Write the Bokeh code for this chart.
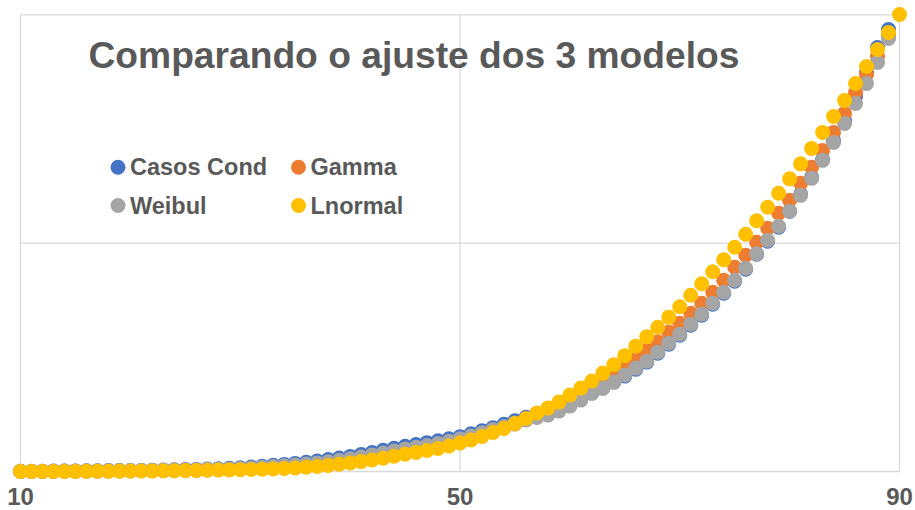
from bokeh.plotting import figure
from bokeh.models import Range1d, Label
from bokeh.core.properties import value
from bokeh.embed import file_html
from bokeh.resources import INLINE

# ---------------- data ----------------
dias = [10, 11, 12, 13, 14, 15, 16, 17, 18, 19,
        20, 21, 22, 23, 24, 25, 26, 27, 28, 29,
        30, 31, 32, 33, 34, 35, 36, 37, 38, 39,
        40, 41, 42, 43, 44, 45, 46, 47, 48, 49,
        50, 51, 52, 53, 54, 55, 56, 57, 58, 59,
        60, 61, 62, 63, 64, 65, 66, 67, 68, 69,
        70, 71, 72, 73, 74, 75, 76, 77, 78, 79,
        80, 81, 82, 83, 84, 85, 86, 87, 88, 89,
        90]

casos_cond = [0.9, 0.9, 1.3, 1.7, 2.2, 2.6, 3.1, 3.5, 3.9, 4.1,
              4.4, 4.8, 5.7, 6.6, 7.4, 8.3, 9.2, 10.5, 12.2, 14.0,
              16.2, 19.7, 23.2, 27.1, 31.1, 35.4, 40.2, 45.9, 52.1, 58.6,
              65.6, 73.9, 83.1, 92.7, 101.9, 110.7, 118.5, 126.4, 134.3, 143.0,
              152.7, 164.9, 178.0, 192.0, 206.5, 221.8, 237.5, 253.7, 269.9, 286.5,
              304.0, 322.0, 343.4, 365.2, 391.5, 417.7, 448.3, 479.0, 518.3, 557.7,
              597.1, 640.8, 684.5, 732.6, 780.8, 833.2, 885.7, 951.3, 1008.2, 1069.4,
              1139.4, 1213.8, 1288.1, 1366.9, 1450.0, 1537.5, 1642.4, 1747.4, 1856.8, 1935.5]

gamma = [0.2, 0.2, 0.4, 0.4, 0.9, 1.1, 1.3, 1.5, 1.7, 2.2,
         2.6, 3.1, 3.5, 3.9, 4.8, 5.2, 5.7, 7.0, 7.9, 9.2,
         10.1, 11.8, 13.6, 15.7, 18.4, 21.4, 24.9, 28.9, 33.7, 39.4,
         45.5, 52.1, 59.9, 68.2, 77.0, 86.2, 93.6, 101.9, 110.7, 120.7,
         132.5, 145.2, 159.7, 175.0, 190.3, 207.8, 227.4, 247.1, 264.6, 288.7,
         312.7, 339.0, 369.6, 400.2, 435.2, 465.8, 496.4, 531.4, 567.0, 610.2,
         649.5, 693.3, 737.0, 785.1, 837.6, 894.5, 947.0, 1003.8, 1065.1, 1130.7,
         1187.5, 1261.9, 1331.9, 1406.2, 1485.0, 1568.1, 1659.9, 1738.7, 1817.4, 1909.2]

weibul = [0.4, 0.4, 0.9, 1.3, 1.7, 1.7, 2.2, 2.6, 3.1, 3.5,
          3.6, 3.9, 4.4, 5.2, 6.1, 6.6, 7.4, 8.7, 10.1, 11.4,
          13.1, 15.7, 18.4, 21.4, 24.9, 28.4, 32.8, 37.6, 42.9, 49.0,
          55.5, 63.4, 71.7, 80.5, 89.7, 98.4, 106.3, 114.2, 122.5, 132.1,
          143.0, 155.3, 169.3, 183.7, 196.8, 212.1, 225.3, 236.2, 247.1, 264.6,
          286.5, 312.7, 343.4, 365.2, 391.5, 422.1, 452.7, 483.3, 522.7, 562.1,
          601.4, 645.2, 688.9, 737.0, 785.1, 837.6, 890.1, 953.5, 1012.6, 1073.8,
          1139.4, 1209.4, 1283.8, 1362.5, 1441.2, 1524.3, 1611.8, 1699.3, 1791.2, 1896.1]

lnormal = [0.1, 0.1, 0.2, 0.2, 0.4, 0.4, 0.9, 0.9, 1.3, 1.7,
           2.2, 2.2, 2.6, 3.1, 3.5, 3.9, 4.4, 5.2, 6.1, 7.0,
           7.9, 8.7, 10.1, 11.4, 13.1, 15.3, 18.4, 21.9, 26.2, 31.5,
           37.2, 43.3, 50.3, 58.2, 66.5, 75.7, 83.1, 91.9, 100.6, 111.5,
           124.7, 137.8, 153.1, 170.6, 188.1, 210.0, 231.8, 255.9, 277.7, 304.0,
           334.6, 365.2, 395.8, 430.8, 468.0, 507.4, 549.0, 590.5, 632.0, 675.8,
           721.7, 772.0, 822.3, 874.8, 927.3, 982.0, 1038.8, 1097.9, 1156.9, 1218.2,
           1281.6, 1347.2, 1415.0, 1485.0, 1554.9, 1624.9, 1699.3, 1773.7, 1848.1, 1922.4,
           2001.1]

x_ticks = [10, 50, 90]
x_tick_labels = ["10", "50", "90"]
y_grid = [0, 1000, 2000]

titulo = "Comparando o ajuste dos 3 modelos"
nomes = ["Casos Cond", "Gamma", "Weibul", "Lnormal"]
cores = ["#4472C4", "#ED7D31", "#A5A5A5", "#FFC000"]

FONT = "Liberation Sans"
TXT = "#595959"
GRID = "#D9D9D9"

W, H = 915, 510
X0, X1 = 8.18, 91.456
Y0, Y1 = -170.8, 2062.6

# ---------------- figure ----------------
p = figure(width=W, height=H, output_backend="svg", toolbar_location=None,
           x_axis_location=None, y_axis_location=None,
           x_range=Range1d(X0, X1), y_range=Range1d(Y0, Y1),
           min_border=0, outline_line_color=None,
           background_fill_color="white", border_fill_color="white")
p.xgrid.visible = False
p.ygrid.visible = False

# gridlines (from tick arrays)
n = len(x_ticks)
p.segment(x0=x_ticks, y0=[y_grid[0]] * n, x1=x_ticks, y1=[y_grid[-1]] * n,
          line_color=GRID, line_width=1.3)
m = len(y_grid)
p.segment(x0=[x_ticks[0]] * m, y0=y_grid, x1=[x_ticks[-1]] * m, y1=y_grid,
          line_color=GRID, line_width=1.3)

series = [casos_cond, gamma, weibul, lnormal]
for vals, cor in zip(series, cores):
    p.scatter(dias[:len(vals)], vals, size=15, fill_color=cor, line_color=None)

# x tick labels
p.text(x=x_ticks, y=[y_grid[0]] * n, text=x_tick_labels, y_offset=25.5,
       text_align="center", text_baseline="middle",
       text_font=value(FONT), text_font_style=value("bold"),
       text_font_size=value("24px"), text_color=TXT)

# title
p.add_layout(Label(x=88, y=H - 54.5, x_units="screen", y_units="screen", text=titulo,
                   text_font=FONT, text_font_style="bold", text_font_size="37.2px",
                   text_color=TXT, text_align="left", text_baseline="middle"))

# legend (two columns, Excel style) -- key markers placed in screen pixels
def sx(px):
    return X0 + px / W * (X1 - X0)

def sy(py):
    return Y1 - py / H * (Y1 - Y0)

leg_cols = [117.5, 298.0]     # marker centres, screen px
leg_rows = [166.7, 205.0]
leg_pos = [(0, 0), (1, 0), (0, 1), (1, 1)]   # (col, row) for each series
for (c, r), nome, cor in zip(leg_pos, nomes, cores):
    p.scatter([sx(leg_cols[c])], [sy(leg_rows[r])], size=15, fill_color=cor, line_color=None)
    p.add_layout(Label(x=leg_cols[c] + 12, y=H - leg_rows[r], x_units="screen", y_units="screen",
                       text=nome, text_font=FONT, text_font_style="bold",
                       text_font_size="23.5px", text_color=TXT,
                       text_align="left", text_baseline="middle"))

open("out.html", "w").write(file_html(p, INLINE))
